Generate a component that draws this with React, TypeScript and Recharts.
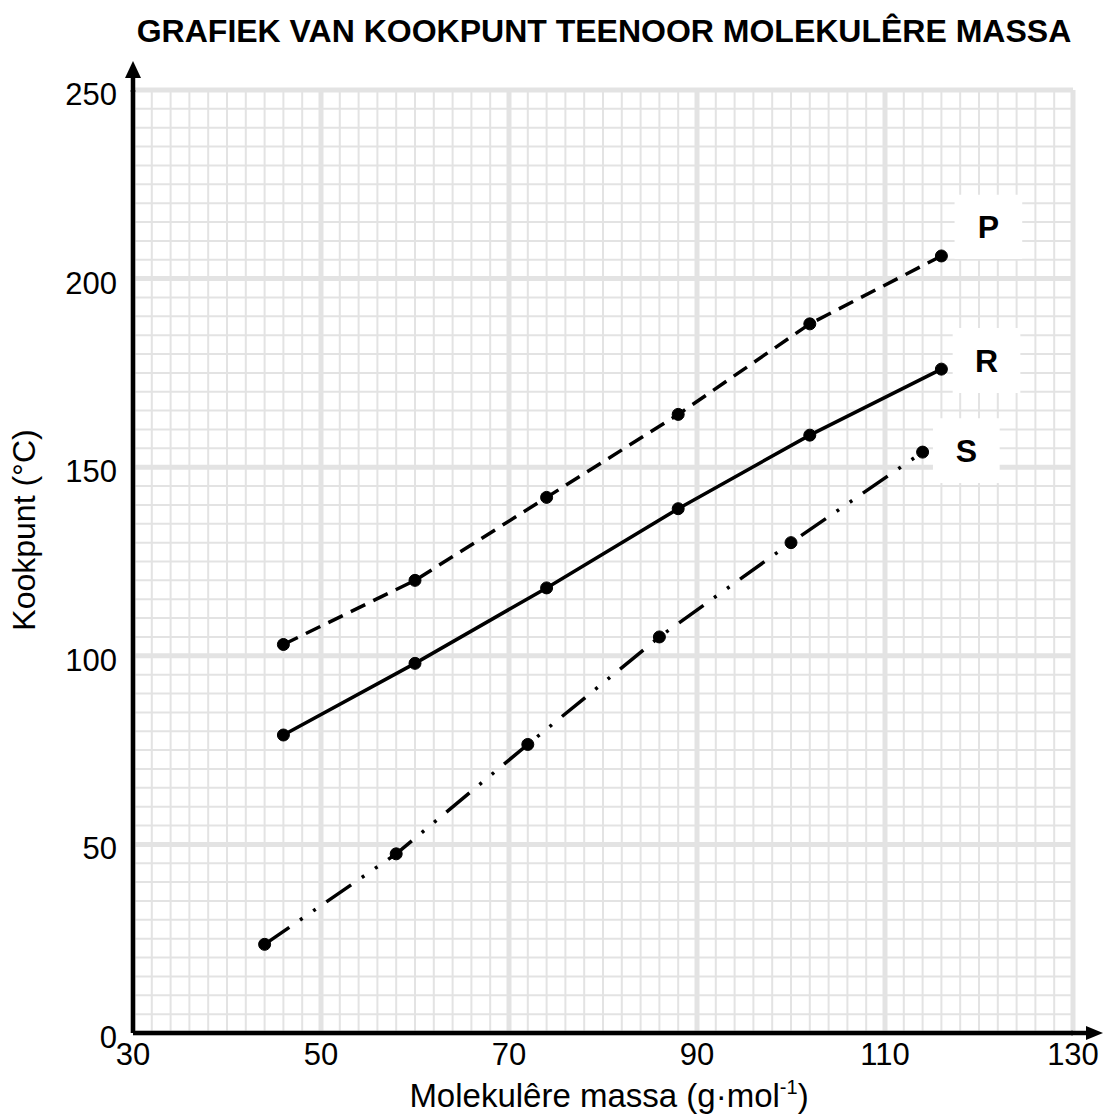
import React from "react";
import {
  LineChart,
  Line,
  XAxis,
  YAxis,
  CartesianGrid,
  ReferenceArea,
} from "recharts";

// molar mass (g/mol) and boiling point (°C) per series
const massP = [46, 60, 74, 88, 102, 116];
const boilP = [103, 120, 142, 164, 188, 206];
const massR = [46, 60, 74, 88, 102, 116];
const boilR = [79, 98, 118, 139, 158.5, 176];
const massS = [44, 58, 72, 86, 100, 114];
const boilS = [23.5, 47.5, 76.5, 105, 130, 154];

const xTicks = [30, 50, 70, 90, 110, 130];
const yTicks = [0, 50, 100, 150, 200, 250];

const FONT = "'Liberation Sans', Arial, sans-serif";
const W = 1105;
const H = 1114;
const LEFT = 133;
const RIGHT = 1073;
const TOP = 90;
const BOTTOM = 1033;

const range = (from: number, to: number, step: number) => {
  const out: number[] = [];
  for (let v = from; v <= to + 1e-9; v += step) out.push(v);
  return out;
};

// graph paper: fine lines every 2 g/mol and 5 °C
const minorX = range(30, 130, 2);
const minorY = range(0, 250, 5);

const toPoints = (xs: number[], ys: number[]) =>
  xs.map((x, i) => ({ x, y: ys[i] }));

const dataP = toPoints(massP, boilP);
const dataR = toPoints(massR, boilR);
const dataS = toPoints(massS, boilS);

// label boxes, in data units
const seriesLabels = [
  { name: "P", x1: 117.4, x2: 124.6, y1: 205.2, y2: 222.2 },
  { name: "R", x1: 117.2, x2: 124.4, y1: 169.7, y2: 186.9 },
  { name: "S", x1: 115.1, x2: 122.2, y1: 145.8, y2: 163.0 },
];

const GRID = "#e3e3e3";

const fineVertical = ({ xAxis, offset }: any) =>
  minorX.map((v) =>
    xAxis && typeof xAxis.scale === "function"
      ? xAxis.scale(v)
      : offset.left + ((v - 30) / 100) * offset.width
  );

const fineHorizontal = ({ yAxis, offset }: any) =>
  minorY.map((v) =>
    yAxis && typeof yAxis.scale === "function"
      ? yAxis.scale(v)
      : offset.top + (1 - v / 250) * offset.height
  );

const YTick = ({ x, y, payload }: any) => (
  <text
    x={x}
    y={y + 15}
    textAnchor="end"
    fontSize={31}
    fontFamily={FONT}
    fill="#000"
  >
    {payload.value}
  </text>
);

const dotStyle = {
  r: 6,
  fill: "#000",
  stroke: "#000",
  strokeWidth: 1,
  strokeDasharray: "none",
};

export default function App() {
  return (
    <div style={{ position: "absolute", left: 0, top: 0, width: W, height: H, background: "#fff" }}>
      <LineChart
        width={W}
        height={H}
        margin={{ top: TOP, right: W - RIGHT, bottom: 0, left: 0 }}
      >
        <XAxis
          type="number"
          dataKey="x"
          domain={[30, 130]}
          ticks={xTicks}
          interval={0}
          allowDataOverflow
          height={H - BOTTOM}
          tickLine={false}
          tickSize={0}
          tickMargin={10}
          axisLine={{ stroke: "#000", strokeWidth: 4.5 }}
          tick={{ fontSize: 31, fontFamily: FONT, fill: "#000" }}
        />
        <YAxis
          type="number"
          dataKey="y"
          domain={[0, 250]}
          ticks={yTicks}
          interval={0}
          allowDataOverflow
          width={LEFT}
          tickLine={false}
          tickSize={0}
          tickMargin={16}
          axisLine={{ stroke: "#000", strokeWidth: 4.5 }}
          tick={<YTick />}
        />
        <CartesianGrid
          stroke={GRID}
          strokeWidth={2}
          verticalCoordinatesGenerator={fineVertical}
          horizontalCoordinatesGenerator={fineHorizontal}
        />
        <CartesianGrid stroke={GRID} strokeWidth={5} />
        {seriesLabels.map((l) => (
          <ReferenceArea
            key={l.name}
            x1={l.x1}
            x2={l.x2}
            y1={l.y1}
            y2={l.y2}
            fill="#fff"
            fillOpacity={1}
            stroke="none"
            label={{
              value: l.name,
              position: "center",
              fill: "#000",
              fontSize: 32,
              fontWeight: "bold",
              fontFamily: FONT,
            }}
          />
        ))}
        <Line
          data={dataP}
          dataKey="y"
          stroke="#000"
          strokeWidth={3.5}
          strokeDasharray="16 9"
          dot={dotStyle}
          activeDot={false}
          isAnimationActive={false}
        />
        <Line
          data={dataR}
          dataKey="y"
          stroke="#000"
          strokeWidth={3.5}
          dot={dotStyle}
          activeDot={false}
          isAnimationActive={false}
        />
        <Line
          data={dataS}
          dataKey="y"
          stroke="#000"
          strokeWidth={3.5}
          strokeDasharray="30 13 3 13 3 13"
          dot={dotStyle}
          activeDot={false}
          isAnimationActive={false}
        />
      </LineChart>
      <svg
        width={W}
        height={H}
        style={{ position: "absolute", left: 0, top: 0, pointerEvents: "none" }}
      >
        <text
          x={604}
          y={42}
          textAnchor="middle"
          fontSize={32}
          fontWeight="bold"
          fontFamily={FONT}
          fill="#000"
        >
          GRAFIEK VAN KOOKPUNT TEENOOR MOLEKULÊRE MASSA
        </text>
        <text
          x={35}
          y={530}
          transform="rotate(-90 35 530)"
          textAnchor="middle"
          fontSize={32}
          fontFamily={FONT}
          fill="#000"
        >
          Kookpunt (°C)
        </text>
        <text
          x={609}
          y={1107}
          textAnchor="middle"
          fontSize={33}
          fontFamily={FONT}
          fill="#000"
        >
          Molekulêre massa (g·mol
          <tspan dy={-13} fontSize={20}>-1</tspan>
          <tspan dy={13}>)</tspan>
        </text>
        {/* axis arrows */}
        <line x1={LEFT} y1={TOP + 2} x2={LEFT} y2={72} stroke="#000" strokeWidth={4.5} />
        <polygon points={`${LEFT},61 ${LEFT - 8},78 ${LEFT + 8},78`} fill="#000" />
        <line x1={RIGHT - 2} y1={BOTTOM} x2={1092} y2={BOTTOM} stroke="#000" strokeWidth={4.5} />
        <polygon
          points={`1103,${BOTTOM} 1086,${BOTTOM - 7} 1086,${BOTTOM + 7}`}
          fill="#000"
        />
      </svg>
    </div>
  );
}
